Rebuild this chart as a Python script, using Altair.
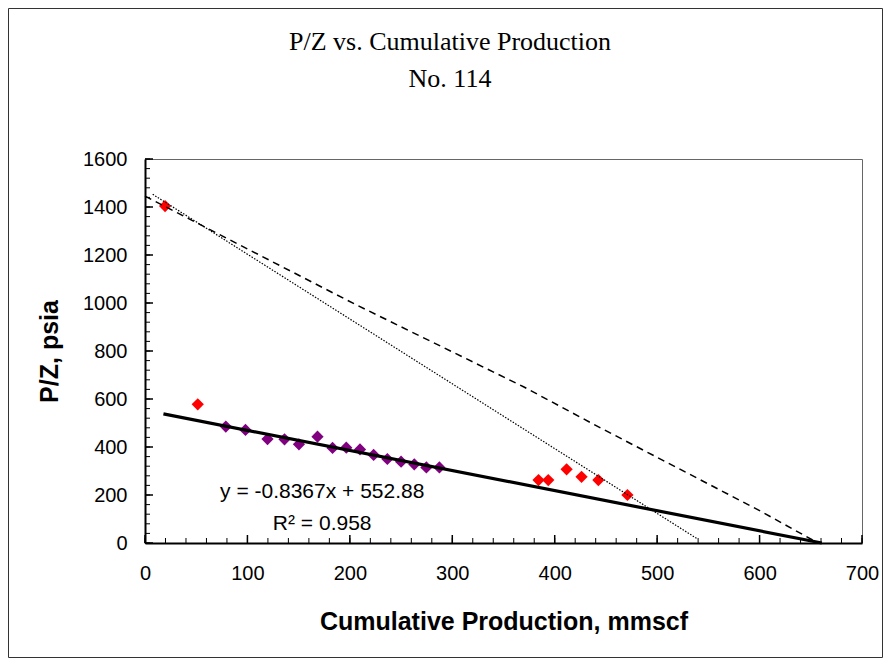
import altair as alt
import pandas as pd

# ---------------- data ----------------
title_lines = ["P/Z vs. Cumulative Production", "No. 114"]
x_title = "Cumulative Production, mmscf"
y_title = "P/Z, psia"

purple_x = [78.9, 98.1, 119.6, 136.2, 150.3, 168.4, 183.1, 196.5, 209.9, 223.2, 236.6, 250.0, 262.9, 274.7, 287.4]
purple_y = [485, 471, 433, 432, 411, 443, 396, 397, 390, 367, 350, 339, 328, 315, 315]

red_x = [19.6, 51.5, 384.2, 393.7, 411.6, 426.2, 442.6, 471.0]
red_y = [1404, 578, 262, 262, 307, 276, 262, 200]

trend_slope = -0.8367
trend_intercept = 552.88
trend_x = [18.0, 660.8]

dotted_x = [7.5, 539.0]
dotted_y = [1453, 18]

dashed_x = [0, 205, 370, 440, 600, 657]
dashed_y = [1445, 995, 650, 490, 135, 0]

eq_labels = ["y = -0.8367x + 552.88", "R\u00b2 = 0.958"]
eq_x = [173, 173]
eq_y = [212, 79]

x_major = list(range(0, 701, 100))
y_major = list(range(0, 1601, 200))
x_minor = list(range(0, 701, 20))
y_minor = list(range(0, 1601, 40))

# ---------------- layout ----------------
W, H = 717, 384
PAD = {"left": 137, "top": 151, "right": 21, "bottom": 115}
SANS = "Liberation Sans"
SERIF = "Liberation Serif"

xs = alt.Scale(domain=[0, 700], nice=False, zero=False)
ys = alt.Scale(domain=[0, 1600], nice=False, zero=False)

x_axis = alt.Axis(values=x_major, title=x_title, format="d", grid=False,
                  ticks=False, tickSize=0, labelFont=SANS, labelFontSize=20,
                  labelColor="black", labelPadding=20, labelFlush=False,
                  titleFont=SANS, titleFontSize=25, titleFontWeight="bold",
                  titleColor="black", titlePadding=26, domainColor="black",
                  domainWidth=2)
y_axis = alt.Axis(values=y_major, title=y_title, format="d", grid=False,
                  ticks=False, tickSize=0, labelFont=SANS, labelFontSize=20,
                  labelColor="black", labelPadding=18, labelFlush=False,
                  titleFont=SANS, titleFontSize=25, titleFontWeight="bold",
                  titleColor="black", titlePadding=20, domainColor="black",
                  domainWidth=2)

X = lambda f="x": alt.X(f"{f}:Q", scale=xs, axis=x_axis)
Y = lambda f="y": alt.Y(f"{f}:Q", scale=ys, axis=y_axis)

purple_df = pd.DataFrame({"x": purple_x, "y": purple_y})
red_df = pd.DataFrame({"x": red_x, "y": red_y})
trend_df = pd.DataFrame({"x": trend_x,
                         "y": [trend_slope * v + trend_intercept for v in trend_x]})
dotted_df = pd.DataFrame({"x": dotted_x, "y": dotted_y})
dashed_df = pd.DataFrame({"x": dashed_x, "y": dashed_y})
eq_df = pd.DataFrame({"x": eq_x, "y": eq_y, "t": eq_labels})

purple = alt.Chart(purple_df).mark_point(shape="diamond", filled=True, size=150,
                                         color="#800080", opacity=1).encode(x=X(), y=Y())
red = alt.Chart(red_df).mark_point(shape="diamond", filled=True, size=150,
                                   color="#FF0000", opacity=1).encode(x=X(), y=Y())
dashed = alt.Chart(dashed_df).mark_line(color="black", strokeWidth=1.5,
                                         strokeDash=[7, 5]).encode(x=X(), y=Y())
dotted = alt.Chart(dotted_df).mark_line(color="black", strokeWidth=1.2,
                                         strokeDash=[1.5, 1.5]).encode(x=X(), y=Y())
trend = alt.Chart(trend_df).mark_line(color="black", strokeWidth=3.2).encode(x=X(), y=Y())

eq = alt.Chart(eq_df).mark_text(font=SANS, fontSize=21, color="black",
                                align="center", baseline="middle").encode(
    x=X(), y=Y(), text="t:N")

# inward ticks drawn as short rules through the scales
xmaj = alt.Chart(pd.DataFrame({"x": x_major})).mark_rule(color="black", strokeWidth=1.5).encode(
    x=X(), y=alt.value(H), y2=alt.value(H - 8))
xmin = alt.Chart(pd.DataFrame({"x": x_minor})).mark_rule(color="black", strokeWidth=1).encode(
    x=X(), y=alt.value(H), y2=alt.value(H - 5))
ymaj = alt.Chart(pd.DataFrame({"y": y_major})).mark_rule(color="black", strokeWidth=1.5).encode(
    y=Y(), x=alt.value(0), x2=alt.value(8))
ymin = alt.Chart(pd.DataFrame({"y": y_minor})).mark_rule(color="black", strokeWidth=1).encode(
    y=Y(), x=alt.value(0), x2=alt.value(5))

title1 = alt.Chart(pd.DataFrame({"t": [title_lines[0]]})).mark_text(
    font=SERIF, fontSize=26, color="black", align="center", baseline="middle").encode(
    x=alt.value(305), y=alt.value(-117), text="t:N")
title2 = alt.Chart(pd.DataFrame({"t": [title_lines[1]]})).mark_text(
    font=SERIF, fontSize=26, color="black", align="center", baseline="middle").encode(
    x=alt.value(305), y=alt.value(-80), text="t:N")

frame = alt.Chart(alt.Data(values=[{"a": 1}])).mark_rect(
    fill=None, stroke="#333333", strokeWidth=1).encode(
    x=alt.value(-PAD["left"] + 0.5), x2=alt.value(W + PAD["right"] - 0.5),
    y=alt.value(-PAD["top"] + 0.5), y2=alt.value(H + PAD["bottom"] - 0.5))

chart = alt.layer(
    frame, red, purple, dashed, dotted, trend, eq,
    xmin, xmaj, ymin, ymaj, title1, title2
).properties(
    width=W, height=H,
    autosize=alt.AutoSizeParams(type="none"),
    padding=PAD,
    background="white",
).configure_view(stroke="#666666", strokeWidth=1)

chart.save("out.html", embed_options={"renderer": "svg", "actions": False})
